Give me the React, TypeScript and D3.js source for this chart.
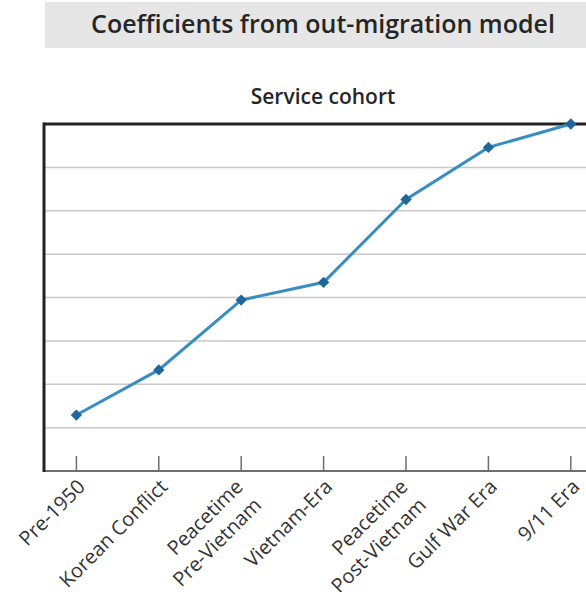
import React, { useRef, useEffect } from "react";
import * as d3 from "d3";

const COHORTS = [
  "Pre-1950",
  "Korean Conflict",
  "Peacetime\nPre-Vietnam",
  "Vietnam-Era",
  "Peacetime\nPost-Vietnam",
  "Gulf War Era",
  "9/11 Era",
];
const COEFFICIENTS = [1.29, 2.33, 3.94, 4.35, 6.26, 7.46, 8.0];
const GRID_TICKS = [1, 2, 3, 4, 5, 6, 7];

const TITLE = "Coefficients from out-migration model";
const SUBTITLE = "Service cohort";

const W = 586;
const H = 592;
const FONT = "'Open Sans', 'Noto Sans', sans-serif";

const App: React.FC = () => {
  const svgRef = useRef<SVGSVGElement | null>(null);

  useEffect(() => {
    if (!svgRef.current) return;
    const svg = d3.select(svgRef.current);
    svg.selectAll("*").remove();

    const left = 44;
    const top = 124;
    const bottom = 471;

    const x = d3
      .scalePoint<string>()
      .domain(COHORTS)
      .range([left, 603.2])
      .padding(0.393);
    const y = d3.scaleLinear().domain([0, 8]).range([bottom, top]);

    /* title box */
    svg
      .append("rect")
      .attr("x", 45)
      .attr("y", 2)
      .attr("width", W - 45)
      .attr("height", 46)
      .attr("fill", "#e6e6e6");
    svg
      .append("text")
      .attr("x", 323)
      .attr("y", 33)
      .attr("text-anchor", "middle")
      .attr("font-family", FONT)
      .attr("font-weight", 600)
      .attr("font-size", "25px")
      .attr("fill", "#262626")
      .text(TITLE);

    svg
      .append("text")
      .attr("x", 323)
      .attr("y", 104)
      .attr("text-anchor", "middle")
      .attr("font-family", FONT)
      .attr("font-weight", 600)
      .attr("font-size", "21px")
      .attr("fill", "#262626")
      .text(SUBTITLE);

    /* gridlines */
    svg
      .append("g")
      .selectAll("line")
      .data(GRID_TICKS)
      .join("line")
      .attr("x1", left)
      .attr("x2", W)
      .attr("y1", (d) => y(d))
      .attr("y2", (d) => y(d))
      .attr("stroke", "#c8c8c8")
      .attr("stroke-width", 1.5);

    /* bottom axis + ticks */
    svg
      .append("line")
      .attr("x1", left)
      .attr("x2", W)
      .attr("y1", bottom)
      .attr("y2", bottom)
      .attr("stroke", "#6e6e6e")
      .attr("stroke-width", 2);
    svg
      .append("g")
      .selectAll("line")
      .data(COHORTS)
      .join("line")
      .attr("x1", (d) => x(d)!)
      .attr("x2", (d) => x(d)!)
      .attr("y1", bottom)
      .attr("y2", bottom - 15)
      .attr("stroke", "#6e6e6e")
      .attr("stroke-width", 1.5);

    /* top border and left axis */
    svg
      .append("line")
      .attr("x1", left)
      .attr("x2", W)
      .attr("y1", top)
      .attr("y2", top)
      .attr("stroke", "#222")
      .attr("stroke-width", 3);
    svg
      .append("line")
      .attr("x1", left)
      .attr("x2", left)
      .attr("y1", top - 1.5)
      .attr("y2", bottom + 1)
      .attr("stroke", "#222")
      .attr("stroke-width", 3);

    /* x labels */
    const lab = svg
      .append("g")
      .selectAll("text")
      .data(COHORTS)
      .join("text")
      .attr("transform", (d) => {
        const dx = d.includes("\n") ? -2 : 5;
        return `translate(${x(d)! + dx},${bottom + 12}) rotate(-45)`;
      })
      .attr("text-anchor", "end")
      .attr("font-family", FONT)
      .attr("font-size", "20px")
      .attr("fill", "#333");
    lab.each(function (d) {
      const lines = d.split("\n");
      const t = d3.select(this);
      lines.forEach((ln, i) => {
        t.append("tspan")
          .attr("x", 0)
          .attr("dy", i === 0 ? "0.35em" : "1.3em")
          .text(ln);
      });
    });

    /* line + markers */
    const pts = COHORTS.map((c, i) => [x(c)!, y(COEFFICIENTS[i])] as [number, number]);
    svg
      .append("path")
      .attr("d", d3.line()(pts))
      .attr("fill", "none")
      .attr("stroke", "#3a8dc0")
      .attr("stroke-width", 3);
    svg
      .append("g")
      .selectAll("path")
      .data(pts)
      .join("path")
      .attr("transform", (d) => `translate(${d[0]},${d[1]}) rotate(45)`)
      .attr("d", d3.symbol(d3.symbolSquare, 64)())
      .attr("fill", "#1f679a");
  }, []);

  return (
    <svg
      ref={svgRef}
      width={W}
      height={H}
      style={{ position: "absolute", left: 0, top: 0, background: "#fff" }}
    />
  );
};

export default App;
